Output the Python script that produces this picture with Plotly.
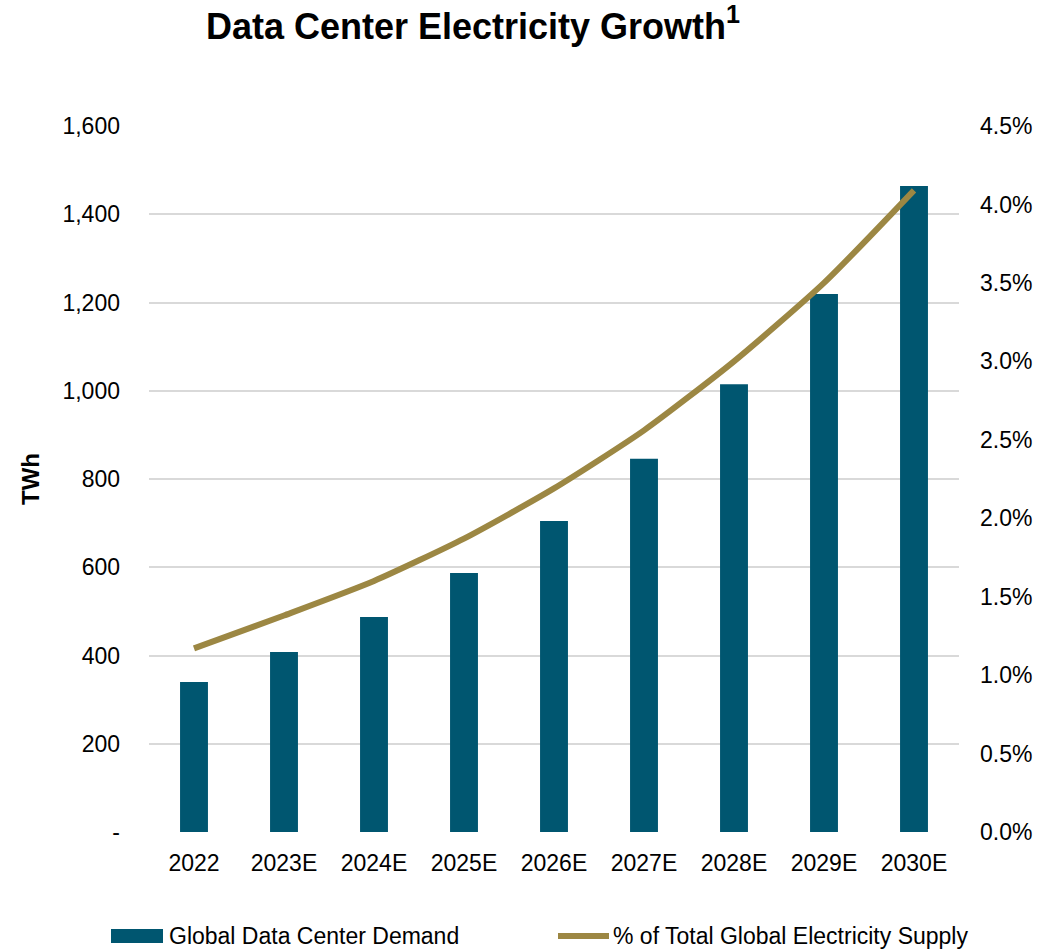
import plotly.graph_objects as go

# Chart data
years = ["2022", "2023E", "2024E", "2025E", "2026E", "2027E", "2028E", "2029E", "2030E"]
demand_twh = [340, 408, 487, 587, 705, 846, 1015, 1219, 1464]
share_of_supply = [0.0117, 0.0138, 0.0160, 0.0187, 0.0219, 0.0256, 0.0300, 0.0350, 0.0409]

left_tickvals = [0, 200, 400, 600, 800, 1000, 1200, 1400, 1600]
left_ticktext = ["-", "200", "400", "600", "800", "1,000", "1,200", "1,400", "1,600"]
right_tickvals = [0, 0.005, 0.01, 0.015, 0.02, 0.025, 0.03, 0.035, 0.04, 0.045]

BAR_COLOR = "#005670"
LINE_COLOR = "#9C8743"
FONT = "Liberation Sans, Arial, sans-serif"
LABEL_SIZE = 23

# Plot area in pixels
PLOT_L, PLOT_R, PLOT_T, PLOT_B = 149, 959, 126, 832
PLOT_W, PLOT_H = PLOT_R - PLOT_L, PLOT_B - PLOT_T


def px_x(x):
    return (x - PLOT_L) / PLOT_W


def px_y(y):
    return (PLOT_B - y) / PLOT_H


fig = go.Figure()

fig.add_trace(go.Bar(
    x=years, y=demand_twh, name="Global Data Center Demand",
    marker=dict(color=BAR_COLOR, line=dict(width=0)),
    yaxis="y", showlegend=False,
))

fig.add_trace(go.Scatter(
    x=years, y=share_of_supply, name="% of Total Global Electricity Supply",
    mode="lines", line=dict(color=LINE_COLOR, width=6, shape="spline", smoothing=0.6),
    yaxis="y2", showlegend=False,
))

fig.update_layout(
    width=1056, height=950,
    margin=dict(l=PLOT_L, r=1056 - PLOT_R, t=PLOT_T, b=950 - PLOT_B),
    plot_bgcolor="white", paper_bgcolor="white",
    font=dict(family=FONT, size=LABEL_SIZE, color="#000000"),
    bargap=0.69,
    xaxis=dict(
        showgrid=False, showline=False, ticks="", zeroline=False,
        tickfont=dict(size=LABEL_SIZE), ticklabelstandoff=15,
    ),
    yaxis=dict(
        range=[0, 1600], tickvals=left_tickvals, ticktext=left_ticktext,
        showgrid=True, gridcolor="#D9D9D9", gridwidth=2, zeroline=False,
        showline=False, ticks="", ticklabelstandoff=28,
        title=dict(text="<b>TWh</b>", font=dict(size=24), standoff=16),
    ),
    yaxis2=dict(
        range=[0, 0.045], tickvals=right_tickvals, tickformat=".1%",
        overlaying="y", side="right", showgrid=False, zeroline=False,
        showline=False, ticks="", ticklabelstandoff=20,
    ),
    title=dict(
        text="<b>Data Center Electricity Growth<sup>1</sup></b>",
        font=dict(size=36, color="#000000"),
        x=473 / 1056, xanchor="center", y=1 - 26 / 950, yanchor="middle",
    ),
)

# Legend drawn below the plot area
legend_y = px_y(936)
fig.add_shape(type="rect", xref="paper", yref="paper",
              x0=px_x(111), x1=px_x(163),
              y0=legend_y - 7 / PLOT_H, y1=legend_y + 7 / PLOT_H,
              fillcolor=BAR_COLOR, line=dict(width=0))
fig.add_annotation(xref="paper", yref="paper", x=px_x(167), y=legend_y,
                   text="Global Data Center Demand", showarrow=False,
                   xanchor="left", yanchor="middle", font=dict(size=LABEL_SIZE))
fig.add_shape(type="line", xref="paper", yref="paper",
              x0=px_x(558), x1=px_x(609),
              y0=legend_y, y1=legend_y,
              line=dict(color=LINE_COLOR, width=6))
fig.add_annotation(xref="paper", yref="paper", x=px_x(611), y=legend_y,
                   text="% of Total Global Electricity Supply", showarrow=False,
                   xanchor="left", yanchor="middle", font=dict(size=LABEL_SIZE))

fig.write_html("out.html")
